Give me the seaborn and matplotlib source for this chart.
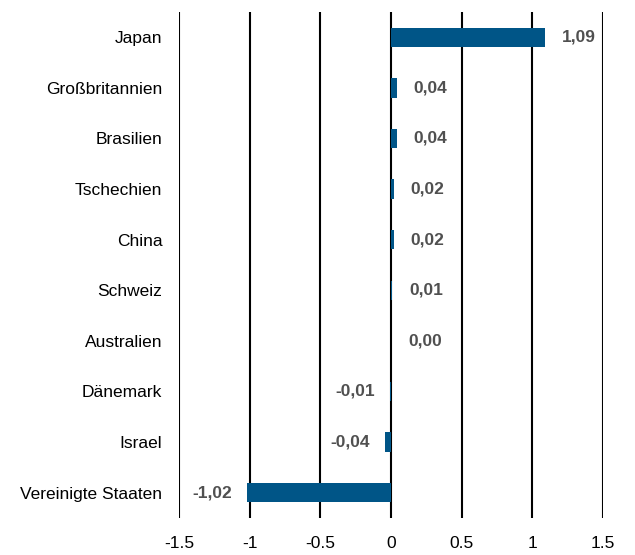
import matplotlib
matplotlib.use("Agg")
import matplotlib.pyplot as plt
import seaborn as sns
import pandas as pd
from matplotlib.ticker import FixedLocator, FixedFormatter
from matplotlib.transforms import offset_copy

countries = ["Japan", "Großbritannien", "Brasilien", "Tschechien", "China",
             "Schweiz", "Australien", "Dänemark", "Israel", "Vereinigte Staaten"]
values = [1.09, 0.04, 0.04, 0.02, 0.02, 0.01, 0.00, -0.01, -0.04, -1.02]
value_labels = ["1,09", "0,04", "0,04", "0,02", "0,02", "0,01", "0,00", "-0,01", "-0,04", "-1,02"]
xticks = [-1.5, -1, -0.5, 0, 0.5, 1, 1.5]
xtick_labels = ["-1.5", "-1", "-0.5", "0", "0.5", "1", "1.5"]

sns.set_theme(style="white")
plt.rcParams["font.family"] = ["Liberation Sans", "DejaVu Sans"]
plt.rcParams["axes.unicode_minus"] = False

df = pd.DataFrame({"country": countries, "value": values})

fig = plt.figure(figsize=(6.35, 5.55), dpi=100)
ax = fig.add_axes([179/635, 1 - 518/555, (603 - 179)/635, (518 - 12)/555])

sns.barplot(data=df, y="country", x="value", orient="h", color="#005587",
            saturation=1, width=0.38, ax=ax, order=countries, linewidth=0,
            zorder=3)

ax.set_xlim(-1.5, 1.5)
ax.set_ylim(9.5, -0.5)
for s in ax.spines.values():
    s.set_visible(False)

for t in xticks:
    ax.axvline(t, color="black", lw=1.5, zorder=1)

ax.xaxis.set_major_locator(FixedLocator(xticks))
ax.xaxis.set_major_formatter(FixedFormatter(xtick_labels))
ax.tick_params(axis="x", length=0, pad=13, labelsize=12.5, labelcolor="black")
ax.tick_params(axis="y", length=0, pad=12, labelsize=12.5, labelcolor="black")
ax.set_xlabel("")
ax.set_ylabel("")

for i, (v, lab) in enumerate(zip(values, value_labels)):
    if v >= 0:
        tr = offset_copy(ax.transData, fig=fig, x=17, y=0, units="dots")
        ha = "left"
    else:
        tr = offset_copy(ax.transData, fig=fig, x=-15, y=0, units="dots")
        ha = "right"
    ax.text(v, i, lab, transform=tr, ha=ha, va="center", fontsize=12.5,
            fontweight="bold", color="#505050", zorder=4)

fig.savefig("out.png", dpi=100)
